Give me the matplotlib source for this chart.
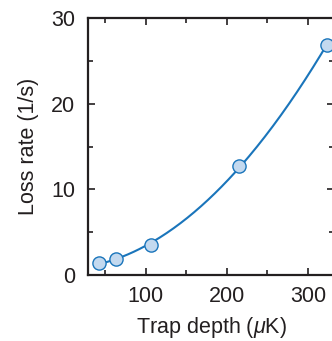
import numpy as np
import matplotlib
matplotlib.use("Agg")
import matplotlib.pyplot as plt
from matplotlib.ticker import MultipleLocator

plt.rcParams['font.family'] = ['Liberation Sans', 'DejaVu Sans']
plt.rcParams['mathtext.fontset'] = 'custom'
plt.rcParams['mathtext.it'] = 'Liberation Sans:italic'
plt.rcParams['mathtext.rm'] = 'Liberation Sans'

# data
depth = [43, 64, 107, 215, 323]      # trap depth (uK)
loss = [1.4, 1.9, 3.5, 12.7, 26.8]   # loss rate (1/s)

ink = '#231f20'
blue = '#1a75bb'
fill = '#c3d9ef'

# quadratic fit through the points
coef = np.polyfit(depth, loss, 2)
xf = np.linspace(min(depth), max(depth), 200)
yf = np.polyval(coef, xf)

fig = plt.figure(figsize=(3.32, 3.41), dpi=100)
ax = fig.add_axes([88 / 332, 66 / 341, 246 / 332, 257 / 341])
ax.plot(xf, yf, color=blue, lw=1.5, zorder=2)
ax.plot(depth, loss, 'o', ms=9.5, mfc=fill, mec=blue, mew=1.0, zorder=3, clip_on=False)

ax.set_xlim(29, 332)
ax.set_ylim(0, 30)
ax.xaxis.set_major_locator(MultipleLocator(100))
ax.xaxis.set_minor_locator(MultipleLocator(50))
ax.yaxis.set_major_locator(MultipleLocator(10))
ax.yaxis.set_minor_locator(MultipleLocator(5))
ax.tick_params(which='both', direction='in', top=True, right=True, colors=ink,
               labelsize=15.5, width=1.2)
ax.tick_params(which='major', length=5)
ax.tick_params(which='minor', length=3.5)
ax.tick_params(axis='x', which='major', pad=8)
ax.tick_params(axis='y', which='major', pad=9)
for s in ax.spines.values():
    s.set_linewidth(1.6)
    s.set_color(ink)

ax.set_xlabel('Trap depth ($\\mu$K)', fontsize=15.5, color=ink, labelpad=6)
ax.set_ylabel('Loss rate (1/s)', fontsize=15.5, color=ink, labelpad=9)

fig.savefig('out.png', dpi=100)
